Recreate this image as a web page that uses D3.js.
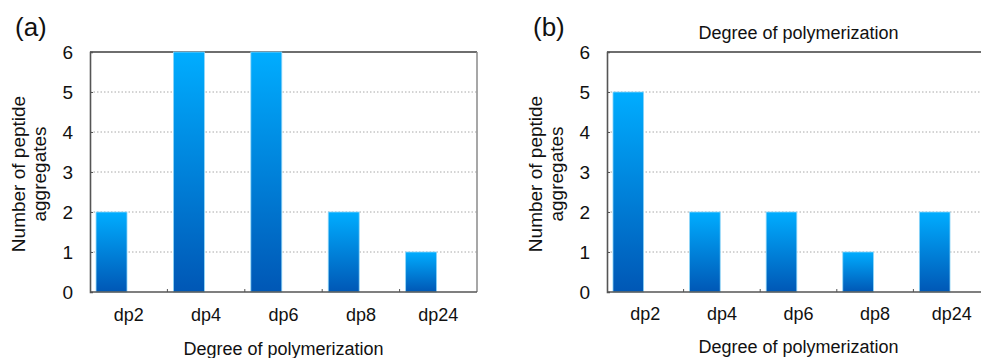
<!DOCTYPE html>
<html>
<head>
<meta charset="utf-8">
<script src="https://cdn.jsdelivr.net/npm/d3@7"></script>
<style>
  body { margin: 0; background: #fff; }
  svg { display: block; font-family: "Liberation Sans", Arial, sans-serif; }
</style>
</head>
<body>
<div id="chart"></div>
<script>
// data
const categories = ["dp2", "dp4", "dp6", "dp8", "dp24"];
const countsA = [2, 6, 6, 2, 1];
const countsB = [5, 2, 2, 1, 2];
const yTicks = [0, 1, 2, 3, 4, 5, 6];

const width = 981, height = 358;

const svg = d3.select("#chart")
  .append("svg")
  .attr("width", width)
  .attr("height", height);

// shared bar gradient
const grad = svg.append("defs").append("linearGradient")
  .attr("id", "barGrad")
  .attr("x1", 0).attr("y1", 0).attr("x2", 0).attr("y2", 1);
grad.append("stop").attr("offset", "0%").attr("stop-color", "#00adff");
grad.append("stop").attr("offset", "100%").attr("stop-color", "#0057b5");

function drawPanel(cfg) {
  const g = svg.append("g");
  const top = 52, bottom = 292;

  const y = d3.scaleLinear().domain([0, 6]).range([bottom, top]);

  // category slots (labels centred, tick marks on boundaries)
  const xCat = d3.scaleBand().domain(categories).range([cfg.left, cfg.right]);
  // bars sit to the left in each slot
  const xBar = d3.scaleBand().domain(categories).range([cfg.left, cfg.right])
    .paddingInner(0.6).paddingOuter(0.3).align(0.13);

  // gridlines
  g.selectAll(".grid")
    .data(yTicks.filter(t => t > 0 && t < 6))
    .enter().append("line")
    .attr("x1", cfg.left).attr("x2", cfg.right)
    .attr("y1", d => y(d)).attr("y2", d => y(d))
    .attr("stroke", "#a8a8a8")
    .attr("stroke-width", 1)
    .attr("stroke-dasharray", "1.5,2");

  // top & right frame
  g.append("line")
    .attr("x1", cfg.left).attr("x2", cfg.right)
    .attr("y1", top).attr("y2", top)
    .attr("stroke", "#6e6e6e").attr("stroke-width", 2);
  g.append("line")
    .attr("x1", cfg.right).attr("x2", cfg.right)
    .attr("y1", top).attr("y2", bottom)
    .attr("stroke", "#8a8a8a").attr("stroke-width", 1.5);

  // bars
  g.selectAll(".bar")
    .data(cfg.values)
    .enter().append("rect")
    .attr("x", (d, i) => xBar(categories[i]))
    .attr("y", d => y(d))
    .attr("width", xBar.bandwidth())
    .attr("height", d => y(0) - y(d))
    .attr("fill", "url(#barGrad)")
    .attr("stroke", "#8fd6f8")
    .attr("stroke-width", 0.8);

  // y axis
  const yAxis = g.append("g")
    .attr("transform", `translate(${cfg.left},0)`)
    .call(d3.axisLeft(y).tickValues(yTicks).tickFormat(d3.format("d"))
      .tickSize(-3).tickPadding(17));
  yAxis.select(".domain").attr("stroke", "#555").attr("stroke-width", 1.6);
  yAxis.selectAll(".tick line").attr("stroke", "#555");
  yAxis.selectAll("text")
    .attr("font-size", 19)
    .attr("fill", "#111")
    .attr("font-family", "Liberation Sans, Arial, sans-serif");

  // x axis: tick marks on category boundaries
  g.append("line")
    .attr("x1", cfg.left).attr("x2", cfg.right)
    .attr("y1", bottom).attr("y2", bottom)
    .attr("stroke", "#555").attr("stroke-width", 1.6);
  g.selectAll(".xtick")
    .data(categories.slice(1))
    .enter().append("line")
    .attr("x1", d => xCat(d)).attr("x2", d => xCat(d))
    .attr("y1", bottom).attr("y2", bottom - 3)
    .attr("stroke", "#555");

  g.selectAll(".xlabel")
    .data(categories)
    .enter().append("text")
    .attr("x", d => xCat(d) + xCat.bandwidth() / 2)
    .attr("y", cfg.tickY)
    .attr("text-anchor", "middle")
    .attr("font-size", 18)
    .attr("fill", "#111")
    .text(d => d);

  // x title at the bottom
  const cx = (cfg.left + cfg.right) / 2;
  g.append("text")
    .attr("x", cx).attr("y", cfg.titleY)
    .attr("text-anchor", "middle")
    .attr("font-size", 18)
    .attr("fill", "#111")
    .text("Degree of polymerization");

  if (cfg.topTitle) {
    g.append("text")
      .attr("x", cx).attr("y", 39)
      .attr("text-anchor", "middle")
      .attr("font-size", 18)
      .attr("fill", "#111")
      .text("Degree of polymerization");
  }

  // y title, two lines
  const yt = g.append("text")
    .attr("transform", `translate(${cfg.yTitleX},174) rotate(-90)`)
    .attr("text-anchor", "middle")
    .attr("font-size", 19)
    .attr("fill", "#111");
  yt.append("tspan").attr("x", 0).attr("y", 0).text("Number of peptide");
  yt.append("tspan").attr("x", 0).attr("y", 21).text("aggregates");

  // panel letter
  g.append("text")
    .attr("x", cfg.letterX).attr("y", 36)
    .attr("font-size", 26)
    .attr("fill", "#111")
    .text(cfg.letter);
}

drawPanel({
  left: 90, right: 477, values: countsA,
  tickY: 321, titleY: 355, yTitleX: 25,
  letter: "(a)", letterX: 15, topTitle: false
});

drawPanel({
  left: 607, right: 990, values: countsB,
  tickY: 320, titleY: 353, yTitleX: 542,
  letter: "(b)", letterX: 533, topTitle: true
});
</script>
</body>
</html>
